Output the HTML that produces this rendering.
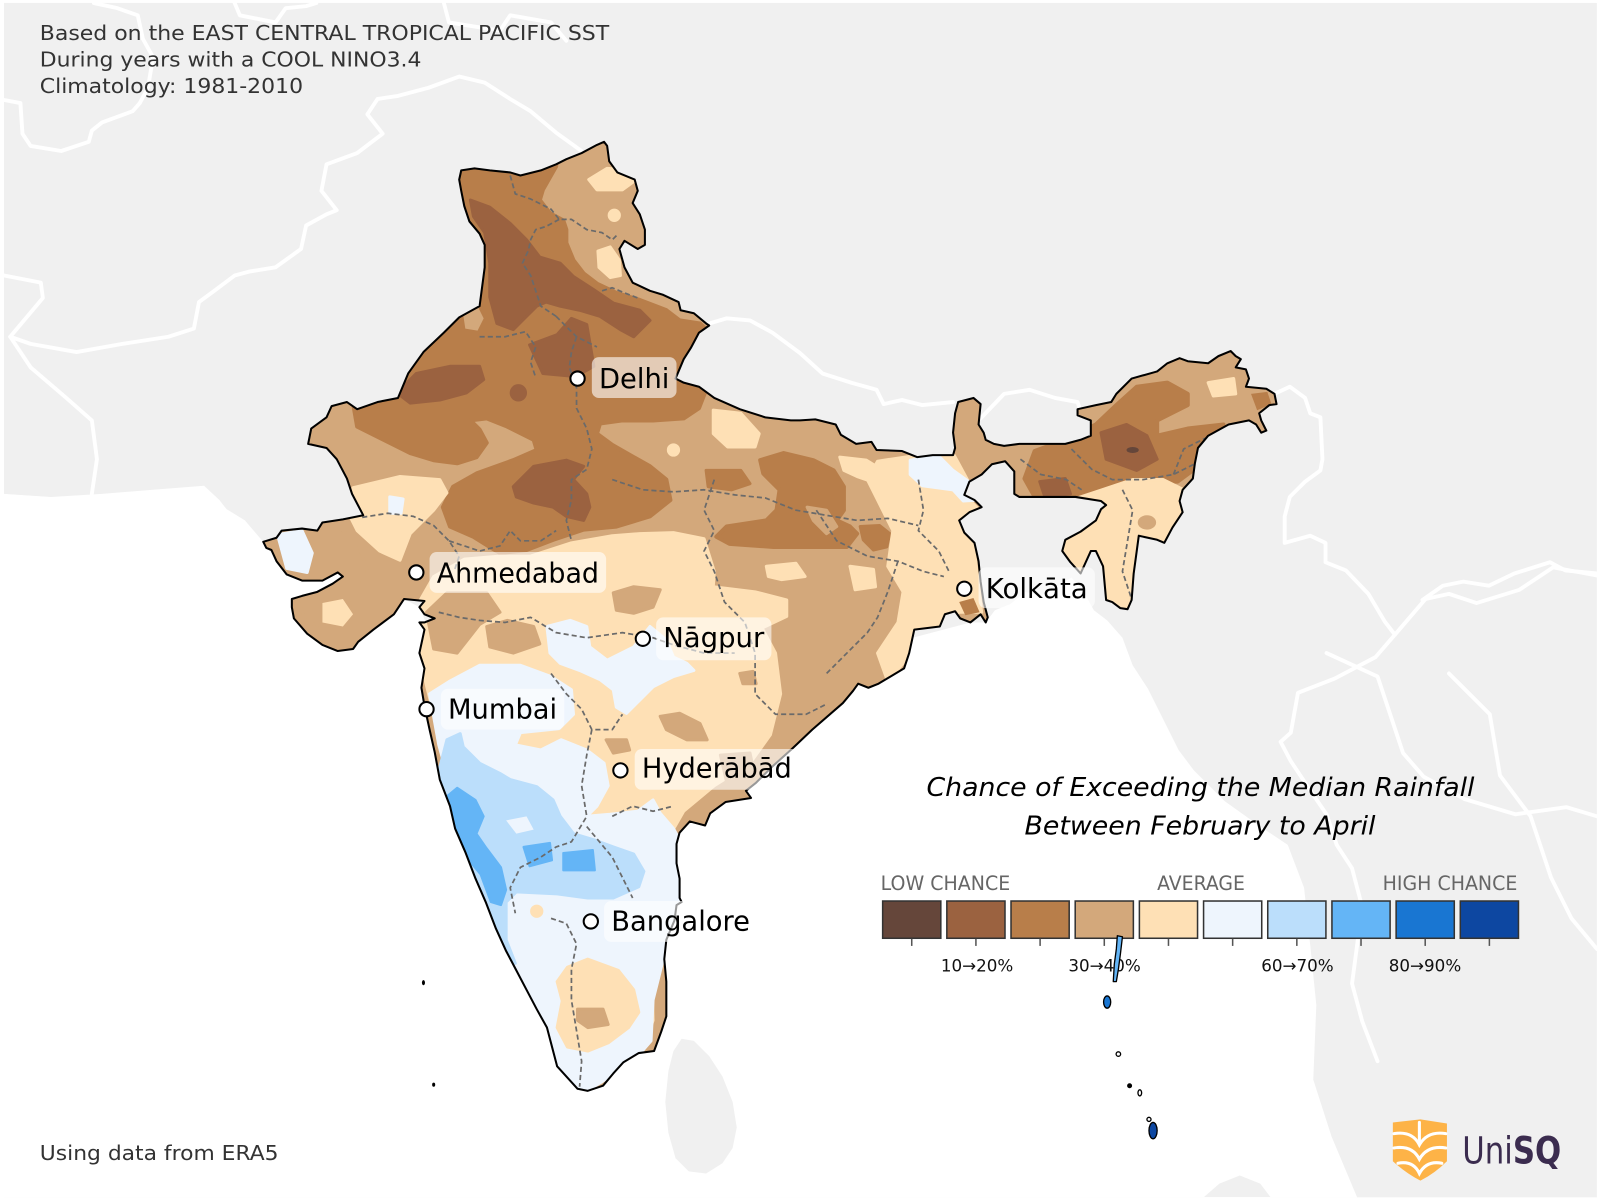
<!DOCTYPE html>
<html><head><meta charset="utf-8"><style>
html,body{margin:0;padding:0;background:#fff;}
svg{display:block;}
text{font-family:"DejaVu Sans","Liberation Sans",sans-serif;}
</style></head><body>
<svg width="1600" height="1200" viewBox="0 0 1568 1176" xmlns="http://www.w3.org/2000/svg">
<defs>
<path id="india" d="M452,167 L465,165 480,167 500,169 510,172 530,167 545,161 555,156 570,150 585,142 592,139 595,143 597,158 605,169 622,176 625,187 620,199 627,210 632,225 632,240 625,244 612,236 607,244 612,262 620,277 637,285 650,289 665,296 667,304 680,307 692,317 695,319 685,326 677,341 670,352 662,371 670,375 685,379 700,390 725,401 750,409 775,412 784,412 799,411 819,416 824,426 839,435 854,433 859,441 884,442 899,448 914,446 934,446 936,439 934,424 936,405 939,394 954,390 961,396 959,416 964,424 966,431 974,435 984,437 999,435 1019,435 1044,435 1059,431 1069,427 1069,412 1056,407 1056,401 1074,397 1089,394 1094,386 1109,371 1134,364 1144,356 1156,351 1164,354 1184,356 1194,349 1206,344 1211,349 1216,352 1211,360 1221,362 1224,371 1221,379 1241,381 1249,386 1251,396 1244,397 1234,405 1236,412 1241,422 1236,424 1231,416 1224,412 1204,416 1184,427 1174,439 1171,454 1169,469 1159,480 1156,491 1159,502 1149,517 1141,532 1134,529 1116,525 1114,540 1111,562 1109,588 1105,597 1098,596 1090,590 1084,588 1081,555 1074,540 1069,540 1064,551 1059,562 1049,551 1041,540 1044,529 1059,521 1074,510 1079,499 1084,495 1079,491 1054,487 1024,487 999,487 994,484 994,462 985,452 972,455 962,465 950,472 945,485 955,490 962,497 950,502 940,510 945,522 955,532 959,550 961,570 964,590 968,605 966,610 961,602 951,610 941,606 936,599 926,602 921,614 896,617 891,640 886,655 861,670 851,674 841,670 836,677 826,689 796,715 776,734 756,752 741,767 731,775 736,782 711,786 696,797 691,809 676,805 666,816 663,827 663,846 666,861 666,880 668,884 663,887 661,902 653,921 651,940 653,962 653,977 653,996 648,1011 641,1030 626,1032 611,1041 601,1052 591,1064 576,1069 566,1067 556,1056 546,1045 541,1026 536,1007 526,989 516,970 506,951 496,932 486,910 476,884 466,861 456,835 446,812 441,790 431,764 426,737 421,715 416,692 413,674 416,655 411,640 416,617 411,610 416,610 426,606 416,602 411,595 416,589 396,587 386,602 366,617 351,629 346,636 331,638 316,632 301,621 288,606 286,595 286,587 296,584 311,580 326,572 336,565 331,561 316,569 296,569 281,563 271,550 266,539 261,537 258,531 271,527 276,520 296,518 311,520 316,512 336,509 356,505 345,484 340,469 330,450 320,439 302,435 305,420 320,409 325,398 340,394 350,401 370,394 390,390 400,366 415,345 435,326 450,311 470,300 475,262 475,240 470,229 460,217 455,202 452,187 450,176 Z"/>
<clipPath id="clipIndia"><use href="#india"/></clipPath>
</defs>

<!-- background land -->
<rect x="3.9" y="2.9" width="1561" height="1170.5" fill="#f0f0f0"/>

<!-- country borders (white) -->
<g fill="none" stroke="#ffffff" stroke-width="3.8" stroke-linejoin="round" stroke-linecap="round">
<polyline points="92,3 115,8 135,15 140,38 150,56 145,86 137,101 130,109 100,120 90,128 87,139 60,148 30,143 22,131 20,101 4,98"/>
<polyline points="4,270 40,277 42,292 10,330 30,337 75,345 120,337 165,330 190,322 195,296 210,285 230,270 245,266 270,262 295,244 300,221 320,210 330,206 315,187 320,161 350,150 375,131 360,112 370,97 390,94 420,86 450,75 475,81 500,97 520,109 545,130 570,148"/>
<polyline points="10,330 30,360 65,390 90,412 95,450 90,484"/>
<polyline points="230,3 235,15 270,22 280,8 300,6 310,3"/>
<polyline points="435,3 440,22 490,30 500,15 540,22 555,40"/>
<polyline points="695,317 712,312 735,314 757,326 784,346 806,366 834,375 859,382 866,396 884,392 904,397 934,394"/>
<polyline points="961,410 984,386 1009,382 1034,390 1056,394 1059,403"/>
<polyline points="1249,386 1264,379 1279,390 1284,405 1294,409 1296,450 1294,461 1279,472 1264,487 1259,506 1259,532 1284,525 1299,532 1299,551 1319,559 1341,582 1357,609 1367,622 1397,587 1420,582 1447,591 1489,578 1522,556 1565,564"/>
<polyline points="1367,622 1348,644 1308,665 1272,679 1265,718 1255,727 1265,746 1285,776 1300,798 1310,828 1325,851 1335,889 1330,926 1325,964 1335,1001 1350,1040"/>
<polyline points="1300,640 1350,663 1375,738 1395,761 1435,783 1485,798 1535,791 1565,800"/>
<polyline points="1394,588 1414,574 1434,570 1459,574 1484,562 1519,551 1534,559 1565,562"/>
<polyline points="1420,660 1460,700 1470,760 1500,800 1520,860 1540,900 1565,930"/>
</g>

<!-- ocean -->
<path fill="#ffffff" d="M3.9,484 L50,487 100,484 150,480 200,476 215,490 222,499 240,510 258,531 281,563 296,569 316,569 331,561 336,565 345,585 396,587 411,595 430,640 600,800 800,650 951,610 966,610 975,598 990,592 1005,580 1020,584 1035,575 1050,566 1062,580 1072,598 1085,608 1100,625 1110,652 1125,675 1140,705 1155,735 1170,755 1200,785 1235,810 1262,828 1278,870 1284,926 1290,985 1287,1058 1305,1114 1330,1173.4 3.9,1173.4 Z"/>
<!-- Sri Lanka -->
<polygon fill="#f0f0f0" points="668,1018 680,1020 695,1035 708,1055 718,1080 722,1105 718,1125 708,1140 692,1150 675,1148 662,1135 655,1110 652,1080 655,1050 660,1030"/>
<polygon fill="#f0f0f0" points="1180,1173 1195,1160 1215,1152 1235,1160 1245,1173"/>

<!-- India fill -->
<use href="#india" fill="#d3a87b"/>
<g clip-path="url(#clipIndia)" stroke-linejoin="round">
<!-- color3 big -->
<polygon fill="#b87e4a" stroke="#b87e4a" stroke-width="4" points="440,150 545,150 545,163 532,186 529,196 539,209 552,216 555,225 555,238 562,255 572,268 585,278 604,287 627,294 653,304 666,314 686,317 700,330 692,382 685,400 670,410 640,412 610,412 588,415 585,425 600,436 621,448 637,457 653,470 657,490 637,506 604,516 572,519 542,529 516,539 490,542 480,536 464,526 441,516 434,497 444,477 467,464 503,451 526,441 523,431 497,418 477,410 461,412 470,421 477,434 467,448 448,454 425,451 402,444 376,431 350,418 346,395 330,388 300,380 440,300"/>
<polygon fill="#d3a87b" points="453,302 468,300 474,312 468,324 456,322"/>
<!-- east color3 -->
<polygon fill="#b87e4a" stroke="#b87e4a" stroke-width="4" points="745,451 768,444 797,451 817,461 827,477 827,500 820,510 833,516 840,523 830,536 791,536 758,536 715,533 702,526 712,516 751,510 761,500 764,480 748,464"/>
<polygon fill="#d3a87b" stroke="#d3a87b" stroke-width="3" points="791,497 810,500 820,516 810,523 797,510"/>
<polygon fill="#b87e4a" stroke="#b87e4a" stroke-width="3" points="843,516 862,515 872,523 869,536 856,539 846,529"/>
<polygon fill="#b87e4a" stroke="#b87e4a" stroke-width="3" points="692,461 726,461 735,474 717,480 694,477"/>
<polygon fill="#b87e4a" stroke="#b87e4a" stroke-width="4" points="1074,416 1094,397 1114,379 1144,375 1164,386 1164,397 1134,412 1134,427 1164,420 1199,416 1174,442 1169,461 1154,472 1124,472 1094,484 1044,487 1014,487 1004,469 1014,442 1044,431"/>
<polygon fill="#b87e4a" points="1226,386 1242,384 1246,396 1232,402"/>
<!-- color2 -->
<g fill="#9b6240" stroke="#9b6240" stroke-width="3">
<polygon points="461,196 480,203 500,219 516,235 529,252 549,258 562,271 582,284 601,297 627,304 637,314 621,330 608,323 588,310 568,304 549,300 535,296 526,300 516,310 503,323 487,317 480,291 480,258 475,228 464,212"/>
<polygon points="389,385 408,366 441,359 470,359 474,372 457,385 431,392 402,395"/>
<polygon points="519,338 546,328 560,312 575,318 582,359 564,369 532,366"/>
<polygon points="503,477 523,457 555,451 572,457 562,470 575,484 578,497 572,510 555,506 542,497 523,493 506,487"/>
<circle cx="508" cy="385" r="7"/>
<polygon points="1079,424 1104,416 1124,427 1134,450 1114,461 1084,450"/>
<polygon points="1019,472 1044,469 1049,484 1024,487"/>
</g>
<ellipse cx="1110" cy="441" rx="6" ry="3" fill="#65463a"/>
<!-- color5 patches -->
<g fill="#fee0b5" stroke="#fee0b5" stroke-width="3">
<polygon points="577,176 595,165 612,166 621,178 610,186 585,186"/>
<polygon points="586,246 598,242 607,255 608,270 598,272 587,262"/>
<circle cx="602" cy="211" r="5"/>
<polygon points="699,402 726,405 744,425 740,438 713,438 699,425"/>
<circle cx="660" cy="441" r="5"/>
<polygon points="751,555 780,552 789,565 766,568 753,565"/>
<polygon points="823,448 849,451 875,467 869,477 840,467 827,461"/>
<polygon points="860,452 900,446 935,446 948,470 945,485 960,500 950,510 955,540 962,600 940,600 925,610 900,620 885,650 870,668 860,640 880,610 885,580 870,555 875,520 860,490 850,470"/>
<polygon points="833,555 856,558 858,575 838,578"/>
<polygon points="346,478 392,467 431,470 438,483 425,500 402,523 392,549 372,540 350,520 340,500"/>
<polygon points="1050,490 1080,480 1110,470 1140,470 1160,480 1160,500 1140,530 1120,560 1110,600 1060,600 1040,540"/>
<polygon points="1184,375 1209,371 1211,386 1189,388"/>
<polygon points="405,600 425,565 455,548 490,545 520,545 560,532 600,525 627,523 660,522 690,528 700,560 699,575 740,580 771,588 771,604 735,621 712,622 745,612 760,640 765,680 755,720 735,748 700,770 670,795 650,830 640,870 638,920 640,1000 630,1030 570,1072 540,1040 500,930 460,820 430,720 415,660"/>
</g>
<polygon fill="#b87e4a" points="940,590 954,586 960,600 946,603"/>
<ellipse cx="1124" cy="512" rx="9" ry="7" fill="#d3a87b"/>
<!-- color4 patches within color5 -->
<g fill="#d3a87b" stroke="#d3a87b" stroke-width="3">
<polygon points="477,614 497,608 523,614 529,631 503,640 480,634"/>
<polygon points="601,581 621,575 647,578 640,595 621,601 604,598"/>
<polygon points="647,702 666,699 686,709 693,725 673,725 653,715"/>
<polygon points="594,725 614,725 617,735 601,738"/>
<polygon points="725,660 738,658 741,670 728,670"/>
<polygon points="438,581 477,581 490,600 470,612 448,640 425,636 418,600"/>
<polygon points="294,516 330,516 350,530 360,560 345,590 330,615 300,610 285,570"/>
<polygon points="706,740 735,738 740,762 712,766"/>
</g>
<polygon fill="#fee0b5" points="316,591 336,587 346,602 336,614 316,610"/>
<!-- color6 -->
<g fill="#eef5fd" stroke="#eef5fd" stroke-width="3">
<polygon points="272,524 296,520 306,542 301,561 281,557"/>
<polygon points="892,451 919,446 934,461 955,476 960,490 944,491 934,480 904,476 892,465"/>
<polygon points="382,487 395,489 393,503 382,503"/>
<polygon points="536,614 559,608 575,614 578,634 595,647 621,634 637,614 653,627 660,644 673,650 680,657 660,663 640,673 627,686 614,699 604,693 601,676 588,666 568,657 549,650 539,640"/>
<polygon points="421,680 440,668 470,652 510,652 540,663 560,676 562,700 548,714 510,718 505,730 530,735 550,725 575,735 592,748 596,770 585,790 575,800 598,798 625,795 640,784 647,797 660,812 670,830 668,870 665,900 650,940 640,980 638,1020 625,1035 590,1060 570,1072 545,1050 520,1000 490,920 455,820 430,730"/>
</g>
<g fill="#fee0b5" stroke="#fee0b5" stroke-width="3">
<polygon points="556,948 576,940 606,951 621,970 626,992 616,1007 596,1022 576,1030 556,1026 546,1007 551,981 546,962"/>
<circle cx="526" cy="893" r="5"/>
</g>
<polygon fill="#d3a87b" stroke="#d3a87b" stroke-width="3" points="566,989 591,989 596,1004 576,1007 566,1000"/>
<!-- color7 -->
<polygon fill="#bbdefb" stroke="#bbdefb" stroke-width="3" points="431,752 438,725 451,719 454,732 470,748 490,758 500,764 526,771 542,784 549,800 562,817 582,823 601,830 621,837 631,854 626,869 601,880 576,880 546,876 506,874 496,884 496,921 505,944 488,940 470,890 450,830 435,780"/>
<polygon fill="#eef5fd" points="496,804 516,800 523,813 506,817"/>
<!-- color8 -->
<g fill="#64b5f6" stroke="#64b5f6" stroke-width="2">
<polygon points="436,782 448,772 466,784 474,800 467,817 476,830 491,850 496,872 491,887 481,884 471,857 456,839 441,812 436,790"/>
<polygon points="513,830 539,826 541,843 519,849"/>
<polygon points="552,836 581,833 583,853 552,853"/>
</g>
<!-- state borders dashed -->
<g fill="none" stroke="#6a6a6a" stroke-width="1.7" stroke-dasharray="5,3" stroke-linejoin="round">
<polyline points="500,172 505,190 520,195 530,200 540,205 548,215 560,215 575,225 590,228 600,235 605,230"/>
<polyline points="548,215 535,222 525,225 520,235 518,245 512,258 520,270 525,285 530,300 545,310"/>
<polyline points="545,310 555,320 565,330 585,340"/>
<polyline points="590,285 600,282 612,287 625,292"/>
<polyline points="470,330 495,330 515,325 525,340 520,355 525,370"/>
<polyline points="565,330 560,345 558,360 565,380 565,400 575,420 580,440 575,460 560,470 560,490 555,510 560,530"/>
<polyline points="355,507 380,503 405,506 425,515 440,530 450,545 445,560"/>
<polyline points="440,530 470,540 490,535 500,520 510,530 530,530 545,520"/>
<polyline points="430,600 450,605 470,608 495,610 520,605 545,620 575,625 610,620 640,625 660,632 690,640 720,640"/>
<polyline points="600,470 630,480 660,482 690,480 720,485 750,488 780,500 810,505 840,510 870,508 900,515"/>
<polyline points="700,470 690,500 700,520 690,540 700,560 710,590 730,610 740,640 740,680 760,700 790,700 810,690"/>
<polyline points="800,500 820,530 850,545 880,550 905,560 925,565"/>
<polyline points="880,550 870,580 860,605 850,620 830,640 810,660"/>
<polyline points="540,660 555,680 570,695 580,715 600,715 610,700"/>
<polyline points="580,715 575,740 570,770 575,800 560,825 545,830 530,840 510,850 500,870 505,895"/>
<polyline points="600,800 620,790 640,795 660,790"/>
<polyline points="540,900 555,905 565,925 560,950 560,980 565,1010 570,1040 568,1065"/>
<polyline points="575,810 600,840 610,860 620,880"/>
<polyline points="1050,440 1070,460 1090,470 1120,470 1150,465 1170,455"/>
<polyline points="1100,480 1110,500 1105,530 1100,560 1110,590"/>
<polyline points="1000,450 1020,465 1045,470 1060,480"/>
<polyline points="900,470 905,500 900,520 920,540 930,560"/>
<polyline points="1150,465 1160,440 1180,430 1200,425"/>
</g>
</g>
<use href="#india" fill="none" stroke="#000" stroke-width="2" stroke-linejoin="round"/>

<!-- small islands west -->
<ellipse cx="415" cy="963" rx="1.5" ry="2.5" fill="#000"/>
<ellipse cx="425" cy="1063" rx="1.5" ry="2" fill="#000"/>

<!-- text top-left -->
<g fill="#333" font-size="20">
<text x="39" y="39" textLength="558" lengthAdjust="spacingAndGlyphs">Based on the EAST CENTRAL TROPICAL PACIFIC SST</text>
<text x="39" y="65" textLength="374" lengthAdjust="spacingAndGlyphs">During years with a COOL NINO3.4</text>
<text x="39" y="91" textLength="258" lengthAdjust="spacingAndGlyphs">Climatology: 1981-2010</text>
<text x="39" y="1137" textLength="234" lengthAdjust="spacingAndGlyphs">Using data from ERA5</text>
</g>

<!-- city labels -->
<g>
<rect x="580" y="350" width="83" height="40" rx="7" fill="#fff" fill-opacity="0.6"/>
<rect x="421" y="541" width="173" height="40" rx="7" fill="#fff" fill-opacity="0.6"/>
<rect x="959" y="556" width="114" height="40" rx="7" fill="#fff" fill-opacity="0.6"/>
<rect x="643" y="605" width="113" height="42" rx="7" fill="#fff" fill-opacity="0.6"/>
<rect x="432" y="675" width="121" height="40" rx="7" fill="#fff" fill-opacity="0.6"/>
<rect x="622" y="734" width="161" height="40" rx="7" fill="#fff" fill-opacity="0.6"/>
<rect x="592" y="883" width="150" height="40" rx="7" fill="#fff" fill-opacity="0.6"/>
</g>
<g fill="#fff" stroke="#000" stroke-width="2">
<circle cx="566" cy="371" r="7"/>
<circle cx="408" cy="561" r="7"/>
<circle cx="945" cy="577" r="7"/>
<circle cx="630" cy="626" r="7"/>
<circle cx="418" cy="695" r="7"/>
<circle cx="608" cy="755" r="7"/>
<circle cx="579" cy="903" r="7"/>
</g>
<g fill="#000" font-size="27">
<text x="587" y="380" textLength="69" lengthAdjust="spacingAndGlyphs">Delhi</text>
<text x="428" y="571" textLength="159" lengthAdjust="spacingAndGlyphs">Ahmedabad</text>
<text x="966" y="586" textLength="100" lengthAdjust="spacingAndGlyphs">Kolkāta</text>
<text x="650" y="634" textLength="99" lengthAdjust="spacingAndGlyphs">Nāgpur</text>
<text x="439" y="704" textLength="107" lengthAdjust="spacingAndGlyphs">Mumbai</text>
<text x="629" y="762" textLength="147" lengthAdjust="spacingAndGlyphs">Hyderābād</text>
<text x="599" y="912" textLength="136" lengthAdjust="spacingAndGlyphs">Bangalore</text>
</g>

<!-- legend -->
<g fill="#000" font-size="25" font-style="italic">
<text x="908" y="780" textLength="537" lengthAdjust="spacingAndGlyphs">Chance of Exceeding the Median Rainfall</text>
<text x="1004" y="818" textLength="344" lengthAdjust="spacingAndGlyphs">Between February to April</text>
</g>
<g fill="#666" font-size="19">
<text x="863" y="872" textLength="127" lengthAdjust="spacingAndGlyphs">LOW CHANCE</text>
<text x="1134" y="872" textLength="86" lengthAdjust="spacingAndGlyphs">AVERAGE</text>
<text x="1355" y="872" textLength="132" lengthAdjust="spacingAndGlyphs">HIGH CHANCE</text>
</g>
<g stroke="#333" stroke-width="1.5">
<rect x="865" y="883" width="57" height="36.5" fill="#65463a"/>
<rect x="927.9" y="883" width="57" height="36.5" fill="#9b6240"/>
<rect x="990.8" y="883" width="57" height="36.5" fill="#b87e4a"/>
<rect x="1053.7" y="883" width="57" height="36.5" fill="#d3a87b"/>
<rect x="1116.6" y="883" width="57" height="36.5" fill="#fee0b5"/>
<rect x="1179.5" y="883" width="57" height="36.5" fill="#eef5fd"/>
<rect x="1242.4" y="883" width="57" height="36.5" fill="#bbdefb"/>
<rect x="1305.3" y="883" width="57" height="36.5" fill="#64b5f6"/>
<rect x="1368.2" y="883" width="57" height="36.5" fill="#1976d2"/>
<rect x="1431.1" y="883" width="57" height="36.5" fill="#0d47a1"/>
</g>
<g stroke="#555" stroke-width="1.5">
<line x1="893.5" y1="920" x2="893.5" y2="927"/>
<line x1="956.4" y1="920" x2="956.4" y2="927"/>
<line x1="1019.3" y1="920" x2="1019.3" y2="927"/>
<line x1="1082.2" y1="920" x2="1082.2" y2="927"/>
<line x1="1145.1" y1="920" x2="1145.1" y2="927"/>
<line x1="1208" y1="920" x2="1208" y2="927"/>
<line x1="1270.9" y1="920" x2="1270.9" y2="927"/>
<line x1="1333.8" y1="920" x2="1333.8" y2="927"/>
<line x1="1396.7" y1="920" x2="1396.7" y2="927"/>
<line x1="1459.6" y1="920" x2="1459.6" y2="927"/>
</g>
<g fill="#111" font-size="16.5">
<text x="922" y="952" textLength="71" lengthAdjust="spacingAndGlyphs">10→20%</text>
<text x="1047" y="952" textLength="71" lengthAdjust="spacingAndGlyphs">30→40%</text>
<text x="1236" y="952" textLength="71" lengthAdjust="spacingAndGlyphs">60→70%</text>
<text x="1361" y="952" textLength="71" lengthAdjust="spacingAndGlyphs">80→90%</text>
</g>

<!-- Andaman & Nicobar -->
<g stroke="#000" stroke-width="1.3" stroke-linejoin="round">
<polygon fill="#64b5f6" points="1095,917 1100,918 1098,935 1096,950 1094,962 1091,962 1092,945 1094,930"/>
<ellipse cx="1085" cy="982" rx="3.5" ry="6" fill="#1976d2"/>
<circle cx="1096" cy="1033" r="2.2" fill="#fff"/>
<circle cx="1107" cy="1064" r="1.8" fill="#000"/>
<ellipse cx="1117" cy="1071" rx="1.8" ry="3" fill="#fff"/>
<circle cx="1126" cy="1097" r="2" fill="#fff"/>
<ellipse cx="1130" cy="1108" rx="4" ry="8" fill="#0d47a1"/>
</g>

<!-- UniSQ logo -->
<g>
<path d="M1365,1100 L1392,1097 L1418,1101 L1418,1138 Q1406,1150 1392,1157 Q1378,1150 1365,1138 Z" fill="#fdb347"/>
<g fill="none" stroke="#fff" stroke-width="3" stroke-linecap="round">
<path d="M1366,1111 Q1384,1108 1391,1122 Q1399,1108 1417,1111"/>
<path d="M1366,1125 Q1384,1122 1391,1136 Q1399,1122 1417,1125"/>
<path d="M1370,1140 Q1385,1137 1391,1150 Q1398,1137 1413,1140"/>
<path d="M1391,1100 L1391,1120"/>
</g>
<text x="1433" y="1140" font-family="Liberation Serif,serif" font-size="37" fill="#3b2c4f" textLength="97" lengthAdjust="spacingAndGlyphs">Uni<tspan font-weight="bold">SQ</tspan></text>
</g>
</svg>
</body></html>
